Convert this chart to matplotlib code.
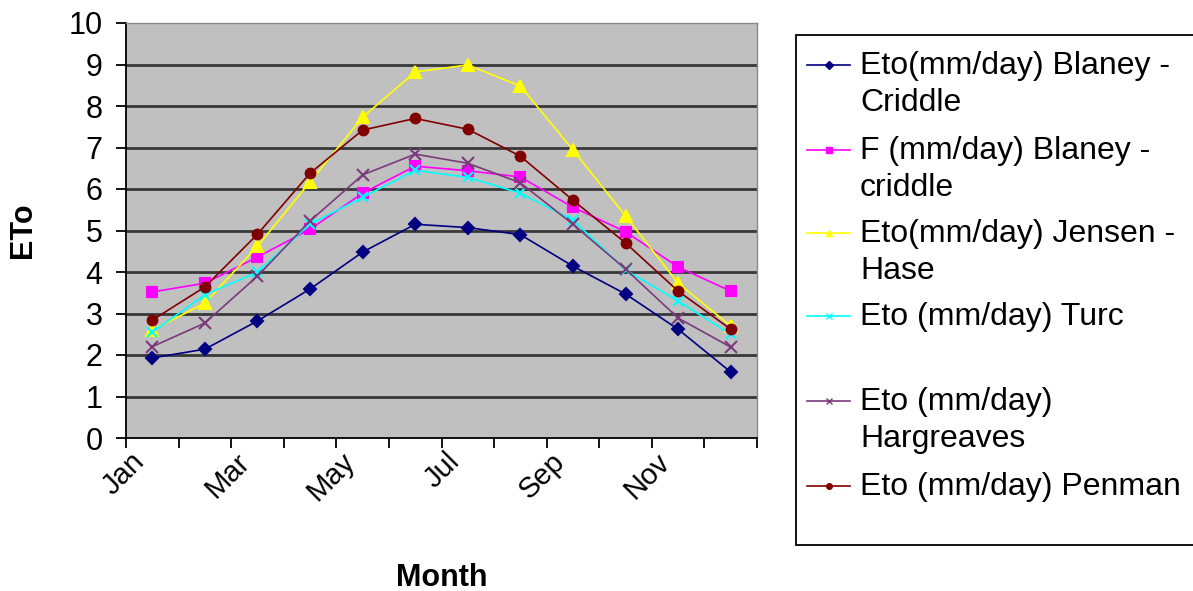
import matplotlib
matplotlib.use("Agg")
import matplotlib.pyplot as plt
from matplotlib.lines import Line2D
from matplotlib.patches import Rectangle
import numpy as np

plt.rcParams['font.family'] = ['Liberation Sans', 'DejaVu Sans']

# Monthly reference evapotranspiration by method (mm/day)
months = ['Jan', 'Feb', 'Mar', 'Apr', 'May', 'Jun', 'Jul', 'Aug', 'Sep', 'Oct', 'Nov', 'Dec']
blaney_criddle = [1.93, 2.14, 2.82, 3.59, 4.48, 5.15, 5.07, 4.90, 4.14, 3.47, 2.62, 1.59]
f_blaney = [3.52, 3.73, 4.36, 5.03, 5.90, 6.55, 6.44, 6.29, 5.56, 4.97, 4.12, 3.54]
jensen_hase = [2.60, 3.25, 4.62, 6.17, 7.73, 8.82, 8.99, 8.48, 6.94, 5.35, 3.73, 2.70]
turc = [2.55, 3.45, 4.00, 5.15, 5.80, 6.45, 6.28, 5.90, 5.25, 4.05, 3.30, 2.50]
hargreaves = [2.20, 2.77, 3.90, 5.23, 6.34, 6.84, 6.62, 6.15, 5.15, 4.07, 2.89, 2.19]
penman = [2.84, 3.64, 4.91, 6.38, 7.42, 7.70, 7.44, 6.79, 5.73, 4.70, 3.54, 2.62]

series = [
    (blaney_criddle, 'Eto(mm/day) Blaney -\nCriddle', '#000080', 'D', 6),
    (f_blaney, 'F (mm/day) Blaney -\ncriddle', '#FF00FF', 's', 7),
    (jensen_hase, 'Eto(mm/day) Jensen -\nHase', '#FFFF00', '^', 8),
    (turc, 'Eto (mm/day) Turc', '#00FFFF', 'x', 7),
    (hargreaves, 'Eto (mm/day)\nHargreaves', '#7B3A7B', 'x', 8),
    (penman, 'Eto (mm/day) Penman', '#800000', 'o', 7),
]

W, H = 1193, 591
fig = plt.figure(figsize=(W / 100, H / 100), dpi=100)
ax = fig.add_axes([126 / W, 1 - 438 / H, 631 / W, 415 / H])
ax.set_facecolor('#C0C0C0')

x = np.arange(len(months)) + 0.5
for vals, label, color, marker, ms in series:
    ax.plot(x, vals, color=color, marker=marker, markersize=ms, linewidth=1.2,
            markeredgewidth=1.5, label=label)

ax.set_xlim(0, 12)
ax.set_ylim(0, 10)
ax.set_yticks(range(0, 11))
ax.tick_params(axis='y', labelsize=22, direction='out', length=7, width=1.3, pad=10)
ax.yaxis.grid(True, color='#383838', linewidth=2)
ax.get_ygridlines()[0].set_visible(False)
ax.get_ygridlines()[-1].set_visible(False)
ax.set_axisbelow(True)

# category boundaries as ticks, labels on every other month (nudged left like Excel)
ax.set_xticks(range(0, 13))
ax.set_xticklabels([])
ax.set_xticks(x[::2] - 0.23, minor=True)
ax.set_xticklabels(months[::2], minor=True, rotation=45, ha='right', va='center',
                   rotation_mode='anchor', fontsize=21)
ax.tick_params(axis='x', which='major', direction='out', length=7, width=1.3)
ax.tick_params(axis='x', which='minor', length=0, pad=14)

for side in ['top', 'right']:
    ax.spines[side].set_color('#8a8a8a')
    ax.spines[side].set_linewidth(1)
for side in ['left', 'bottom']:
    ax.spines[side].set_color('black')
    ax.spines[side].set_linewidth(1.3)

ax.set_ylabel('ETo', fontsize=22, fontweight='bold')
ax.yaxis.set_label_coords(-0.139, 0.5)
ax.set_xlabel('Month', fontsize=22, fontweight='bold')
ax.xaxis.set_label_coords(0.5, -0.30)

# legend drawn by hand so the key sits on the first line of each label
fig.add_artist(Rectangle((796 / W, 1 - 545 / H), 800 / W, 510 / H, transform=fig.transFigure,
                         facecolor='white', edgecolor='black', linewidth=1.3))
first_line_y = [65, 150, 233, 316, 401, 486]
for (vals, label, color, marker, ms), py in zip(series, first_line_y):
    fy = 1 - py / H
    fig.add_artist(Line2D([807 / W, 850 / W], [fy, fy], transform=fig.transFigure,
                          color=color, linewidth=1.2))
    fig.add_artist(Line2D([828.5 / W], [fy], transform=fig.transFigure, color=color,
                          marker=marker, markersize=4, markeredgewidth=1))
    fig.text(860 / W, fy + 14 / H, label, fontsize=23, va='top', ha='left',
             transform=fig.transFigure, linespacing=1.3)

plt.savefig('out.png', dpi=100)
